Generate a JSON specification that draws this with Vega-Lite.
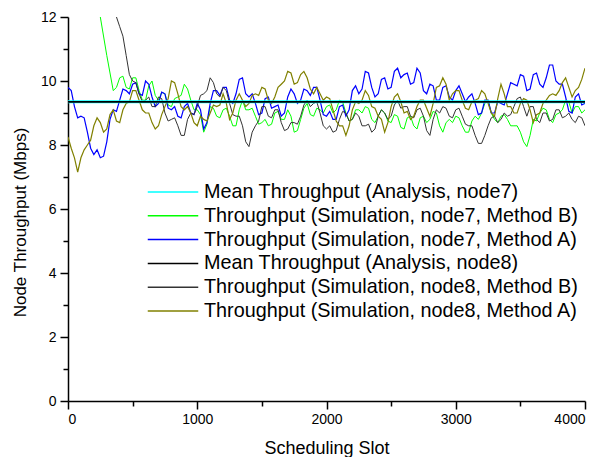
{
  "$schema": "https://vega.github.io/schema/vega-lite/v6.json",
  "width": 517,
  "height": 384,
  "autosize": {"type": "none"},
  "padding": {"left": 68, "top": 17, "right": 28, "bottom": 56},
  "background": "white",
  "config": {"view": {"stroke": null}, "font": "Liberation Sans"},
  "datasets": {
    "names": [
      {"s": "m7", "name": "Mean Throughput (Analysis, node7)"},
      {"s": "g", "name": "Throughput (Simulation, node7, Method B)"},
      {"s": "b", "name": "Throughput (Simulation, node7, Method A)"},
      {"s": "m8", "name": "Mean Throughput (Analysis, node8)"},
      {"s": "k", "name": "Throughput (Simulation, node8, Method B)"},
      {"s": "o", "name": "Throughput (Simulation, node8, Method A)"}
    ],
    "pts": [
      {"s":"m7","x":0,"y":9.35},{"s":"m7","x":4000,"y":9.35},
      {"s":"m8","x":0,"y":9.35},{"s":"m8","x":4000,"y":9.35},
      {"s":"b","x":0,"y":9.8},{"s":"b","x":50,"y":9.2},{"s":"b","x":100,"y":8.9},{"s":"b","x":150,"y":8.4},{"s":"b","x":200,"y":7.7},{"s":"b","x":250,"y":7.6},{"s":"b","x":300,"y":8.1},{"s":"b","x":350,"y":9.1},{"s":"b","x":400,"y":9.4},{"s":"b","x":450,"y":9.7},{"s":"b","x":500,"y":9.9},{"s":"b","x":550,"y":9.6},{"s":"b","x":600,"y":10.0},{"s":"b","x":650,"y":9.5},{"s":"b","x":700,"y":9.3},{"s":"b","x":750,"y":9.6},{"s":"b","x":800,"y":9.1},{"s":"b","x":850,"y":8.9},{"s":"b","x":900,"y":9.2},{"s":"b","x":950,"y":9.0},{"s":"b","x":1000,"y":9.3},{"s":"b","x":1050,"y":8.5},{"s":"b","x":1100,"y":9.3},{"s":"b","x":1150,"y":9.7},{"s":"b","x":1200,"y":9.8},{"s":"b","x":1250,"y":9.4},{"s":"b","x":1300,"y":9.6},{"s":"b","x":1350,"y":10.1},{"s":"b","x":1400,"y":9.5},{"s":"b","x":1450,"y":9.3},{"s":"b","x":1500,"y":9.0},{"s":"b","x":1550,"y":9.5},{"s":"b","x":1600,"y":9.2},{"s":"b","x":1650,"y":8.9},{"s":"b","x":1700,"y":9.5},{"s":"b","x":1750,"y":9.6},{"s":"b","x":1800,"y":9.4},{"s":"b","x":1850,"y":9.7},{"s":"b","x":1900,"y":9.8},{"s":"b","x":1950,"y":9.4},{"s":"b","x":2000,"y":8.9},{"s":"b","x":2050,"y":8.8},{"s":"b","x":2100,"y":9.2},{"s":"b","x":2150,"y":8.9},{"s":"b","x":2200,"y":9.7},{"s":"b","x":2250,"y":9.6},{"s":"b","x":2300,"y":10.3},{"s":"b","x":2350,"y":9.8},{"s":"b","x":2400,"y":9.6},{"s":"b","x":2450,"y":10.1},{"s":"b","x":2500,"y":9.8},{"s":"b","x":2550,"y":10.4},{"s":"b","x":2600,"y":10.2},{"s":"b","x":2650,"y":9.9},{"s":"b","x":2700,"y":10.4},{"s":"b","x":2750,"y":9.7},{"s":"b","x":2800,"y":9.9},{"s":"b","x":2850,"y":9.4},{"s":"b","x":2900,"y":9.8},{"s":"b","x":2950,"y":9.5},{"s":"b","x":3000,"y":9.7},{"s":"b","x":3050,"y":9.6},{"s":"b","x":3100,"y":9.5},{"s":"b","x":3150,"y":9.3},{"s":"b","x":3200,"y":9.0},{"s":"b","x":3250,"y":9.4},{"s":"b","x":3300,"y":9.0},{"s":"b","x":3350,"y":9.3},{"s":"b","x":3400,"y":9.6},{"s":"b","x":3450,"y":9.9},{"s":"b","x":3500,"y":10.2},{"s":"b","x":3550,"y":9.7},{"s":"b","x":3600,"y":10.2},{"s":"b","x":3650,"y":9.9},{"s":"b","x":3700,"y":10.1},{"s":"b","x":3750,"y":10.5},{"s":"b","x":3800,"y":9.9},{"s":"b","x":3850,"y":9.5},{"s":"b","x":3900,"y":9.0},{"s":"b","x":3950,"y":9.6},{"s":"b","x":4000,"y":9.3},
      {"s":"b","x":25,"y":9.7},{"s":"b","x":75,"y":8.85},{"s":"b","x":125,"y":8.85},{"s":"b","x":175,"y":7.9},{"s":"b","x":225,"y":7.85},{"s":"b","x":275,"y":7.65},{"s":"b","x":325,"y":8.8},{"s":"b","x":375,"y":9.05},{"s":"b","x":425,"y":9.75},{"s":"b","x":475,"y":9.6},{"s":"b","x":525,"y":9.95},{"s":"b","x":575,"y":9.55},{"s":"b","x":625,"y":9.9},{"s":"b","x":675,"y":9.2},{"s":"b","x":725,"y":9.65},{"s":"b","x":775,"y":9.15},{"s":"b","x":825,"y":9.2},{"s":"b","x":875,"y":8.85},{"s":"b","x":925,"y":9.3},{"s":"b","x":975,"y":8.95},{"s":"b","x":1025,"y":9.1},{"s":"b","x":1075,"y":8.7},{"s":"b","x":1125,"y":9.7},{"s":"b","x":1175,"y":9.55},{"s":"b","x":1225,"y":9.8},{"s":"b","x":1275,"y":9.3},{"s":"b","x":1325,"y":10.05},{"s":"b","x":1375,"y":9.6},{"s":"b","x":1425,"y":9.6},{"s":"b","x":1475,"y":8.95},{"s":"b","x":1525,"y":9.45},{"s":"b","x":1575,"y":9.15},{"s":"b","x":1625,"y":9.25},{"s":"b","x":1675,"y":9.0},{"s":"b","x":1725,"y":9.75},{"s":"b","x":1775,"y":9.3},{"s":"b","x":1825,"y":9.75},{"s":"b","x":1875,"y":9.55},{"s":"b","x":1925,"y":9.8},{"s":"b","x":1975,"y":8.95},{"s":"b","x":2025,"y":9.05},{"s":"b","x":2075,"y":8.8},{"s":"b","x":2125,"y":9.25},{"s":"b","x":2175,"y":9.1},{"s":"b","x":2225,"y":9.85},{"s":"b","x":2275,"y":9.75},{"s":"b","x":2325,"y":10.25},{"s":"b","x":2375,"y":9.5},{"s":"b","x":2425,"y":10.05},{"s":"b","x":2475,"y":9.75},{"s":"b","x":2525,"y":10.3},{"s":"b","x":2575,"y":10.1},{"s":"b","x":2625,"y":10.25},{"s":"b","x":2675,"y":9.95},{"s":"b","x":2725,"y":10.25},{"s":"b","x":2775,"y":9.6},{"s":"b","x":2825,"y":9.85},{"s":"b","x":2875,"y":9.4},{"s":"b","x":2925,"y":9.85},{"s":"b","x":2975,"y":9.4},{"s":"b","x":3025,"y":9.85},{"s":"b","x":3075,"y":9.35},{"s":"b","x":3125,"y":9.6},{"s":"b","x":3175,"y":8.95},{"s":"b","x":3225,"y":9.4},{"s":"b","x":3275,"y":9.0},{"s":"b","x":3325,"y":9.35},{"s":"b","x":3375,"y":9.25},{"s":"b","x":3425,"y":9.95},{"s":"b","x":3475,"y":9.85},{"s":"b","x":3525,"y":10.15},{"s":"b","x":3575,"y":9.75},{"s":"b","x":3625,"y":10.25},{"s":"b","x":3675,"y":9.8},{"s":"b","x":3725,"y":10.5},{"s":"b","x":3775,"y":10.0},{"s":"b","x":3825,"y":9.9},{"s":"b","x":3875,"y":9.05},{"s":"b","x":3925,"y":9.5},{"s":"b","x":3975,"y":9.25},
      {"s":"g","x":200,"y":13.1},{"s":"g","x":250,"y":12.0},{"s":"g","x":300,"y":10.8},{"s":"g","x":350,"y":9.7},{"s":"g","x":400,"y":10.1},{"s":"g","x":450,"y":9.8},{"s":"g","x":500,"y":10.1},{"s":"g","x":550,"y":9.7},{"s":"g","x":600,"y":9.4},{"s":"g","x":650,"y":10.0},{"s":"g","x":700,"y":9.4},{"s":"g","x":750,"y":9.6},{"s":"g","x":800,"y":9.2},{"s":"g","x":850,"y":9.5},{"s":"g","x":900,"y":9.9},{"s":"g","x":950,"y":9.4},{"s":"g","x":1000,"y":9.1},{"s":"g","x":1050,"y":8.4},{"s":"g","x":1100,"y":9.2},{"s":"g","x":1150,"y":8.9},{"s":"g","x":1200,"y":9.1},{"s":"g","x":1250,"y":8.9},{"s":"g","x":1300,"y":8.6},{"s":"g","x":1350,"y":9.4},{"s":"g","x":1400,"y":9.1},{"s":"g","x":1450,"y":8.9},{"s":"g","x":1500,"y":8.7},{"s":"g","x":1550,"y":8.6},{"s":"g","x":1600,"y":9.0},{"s":"g","x":1650,"y":8.8},{"s":"g","x":1700,"y":9.1},{"s":"g","x":1750,"y":8.4},{"s":"g","x":1800,"y":8.8},{"s":"g","x":1850,"y":9.3},{"s":"g","x":1900,"y":8.9},{"s":"g","x":1950,"y":9.1},{"s":"g","x":2000,"y":9.2},{"s":"g","x":2050,"y":9.0},{"s":"g","x":2100,"y":9.4},{"s":"g","x":2150,"y":9.0},{"s":"g","x":2200,"y":8.8},{"s":"g","x":2250,"y":9.1},{"s":"g","x":2300,"y":9.2},{"s":"g","x":2350,"y":8.8},{"s":"g","x":2400,"y":8.9},{"s":"g","x":2450,"y":9.0},{"s":"g","x":2500,"y":8.7},{"s":"g","x":2550,"y":8.9},{"s":"g","x":2600,"y":8.5},{"s":"g","x":2650,"y":8.9},{"s":"g","x":2700,"y":8.5},{"s":"g","x":2750,"y":8.9},{"s":"g","x":2800,"y":8.8},{"s":"g","x":2850,"y":9.0},{"s":"g","x":2900,"y":8.4},{"s":"g","x":2950,"y":8.8},{"s":"g","x":3000,"y":8.9},{"s":"g","x":3050,"y":8.6},{"s":"g","x":3100,"y":8.4},{"s":"g","x":3150,"y":8.9},{"s":"g","x":3200,"y":9.0},{"s":"g","x":3250,"y":9.4},{"s":"g","x":3300,"y":8.8},{"s":"g","x":3350,"y":8.9},{"s":"g","x":3400,"y":8.8},{"s":"g","x":3450,"y":8.6},{"s":"g","x":3500,"y":8.4},{"s":"g","x":3550,"y":7.95},{"s":"g","x":3600,"y":8.8},{"s":"g","x":3650,"y":9.0},{"s":"g","x":3700,"y":9.1},{"s":"g","x":3750,"y":8.7},{"s":"g","x":3800,"y":9.0},{"s":"g","x":3850,"y":9.4},{"s":"g","x":3900,"y":9.0},{"s":"g","x":3950,"y":9.2},{"s":"g","x":4000,"y":9.1},
      {"s":"g","x":375,"y":9.8},{"s":"g","x":425,"y":10.15},{"s":"g","x":475,"y":9.75},{"s":"g","x":525,"y":10.1},{"s":"g","x":575,"y":9.4},{"s":"g","x":625,"y":9.85},{"s":"g","x":675,"y":9.55},{"s":"g","x":725,"y":9.65},{"s":"g","x":775,"y":9.25},{"s":"g","x":825,"y":9.45},{"s":"g","x":875,"y":9.55},{"s":"g","x":925,"y":9.75},{"s":"g","x":975,"y":9.1},{"s":"g","x":1025,"y":8.95},{"s":"g","x":1075,"y":8.65},{"s":"g","x":1125,"y":9.15},{"s":"g","x":1175,"y":8.85},{"s":"g","x":1225,"y":9.15},{"s":"g","x":1275,"y":8.6},{"s":"g","x":1325,"y":9.1},{"s":"g","x":1375,"y":9.1},{"s":"g","x":1425,"y":9.15},{"s":"g","x":1475,"y":8.65},{"s":"g","x":1525,"y":8.8},{"s":"g","x":1575,"y":8.65},{"s":"g","x":1625,"y":9.05},{"s":"g","x":1675,"y":8.8},{"s":"g","x":1725,"y":8.9},{"s":"g","x":1775,"y":8.45},{"s":"g","x":1825,"y":9.15},{"s":"g","x":1875,"y":8.95},{"s":"g","x":1925,"y":9.15},{"s":"g","x":1975,"y":9.0},{"s":"g","x":2025,"y":9.25},{"s":"g","x":2075,"y":9.1},{"s":"g","x":2125,"y":9.35},{"s":"g","x":2175,"y":8.75},{"s":"g","x":2225,"y":9.1},{"s":"g","x":2275,"y":9.0},{"s":"g","x":2325,"y":9.15},{"s":"g","x":2375,"y":8.7},{"s":"g","x":2425,"y":9.1},{"s":"g","x":2475,"y":8.75},{"s":"g","x":2525,"y":8.95},{"s":"g","x":2575,"y":8.55},{"s":"g","x":2625,"y":8.85},{"s":"g","x":2675,"y":8.6},{"s":"g","x":2725,"y":8.85},{"s":"g","x":2775,"y":8.7},{"s":"g","x":2825,"y":9.05},{"s":"g","x":2875,"y":8.6},{"s":"g","x":2925,"y":8.7},{"s":"g","x":2975,"y":8.7},{"s":"g","x":3025,"y":8.85},{"s":"g","x":3075,"y":8.4},{"s":"g","x":3125,"y":8.75},{"s":"g","x":3175,"y":8.8},{"s":"g","x":3225,"y":9.3},{"s":"g","x":3275,"y":9.0},{"s":"g","x":3325,"y":8.7},{"s":"g","x":3375,"y":8.95},{"s":"g","x":3425,"y":8.6},{"s":"g","x":3475,"y":8.6},{"s":"g","x":3525,"y":8.1},{"s":"g","x":3575,"y":8.3},{"s":"g","x":3625,"y":8.75},{"s":"g","x":3675,"y":9.15},{"s":"g","x":3725,"y":8.8},{"s":"g","x":3775,"y":8.95},{"s":"g","x":3825,"y":9.1},{"s":"g","x":3875,"y":9.35},{"s":"g","x":3925,"y":9.2},{"s":"g","x":3975,"y":9.0},
      {"s":"k","x":300,"y":13.3},{"s":"k","x":350,"y":12.5},{"s":"k","x":400,"y":11.7},{"s":"k","x":450,"y":10.8},{"s":"k","x":500,"y":10.0},{"s":"k","x":550,"y":9.6},{"s":"k","x":600,"y":9.4},{"s":"k","x":650,"y":9.2},{"s":"k","x":700,"y":9.5},{"s":"k","x":750,"y":9.0},{"s":"k","x":800,"y":8.8},{"s":"k","x":850,"y":8.6},{"s":"k","x":900,"y":8.3},{"s":"k","x":950,"y":9.0},{"s":"k","x":1000,"y":9.2},{"s":"k","x":1050,"y":9.6},{"s":"k","x":1100,"y":10.1},{"s":"k","x":1150,"y":9.6},{"s":"k","x":1200,"y":9.8},{"s":"k","x":1250,"y":9.3},{"s":"k","x":1300,"y":8.9},{"s":"k","x":1350,"y":8.6},{"s":"k","x":1400,"y":7.95},{"s":"k","x":1450,"y":8.6},{"s":"k","x":1500,"y":9.2},{"s":"k","x":1550,"y":8.9},{"s":"k","x":1600,"y":9.1},{"s":"k","x":1650,"y":8.7},{"s":"k","x":1700,"y":8.5},{"s":"k","x":1750,"y":8.7},{"s":"k","x":1800,"y":8.9},{"s":"k","x":1850,"y":9.4},{"s":"k","x":1900,"y":9.3},{"s":"k","x":1950,"y":9.0},{"s":"k","x":2000,"y":8.5},{"s":"k","x":2050,"y":8.4},{"s":"k","x":2100,"y":8.8},{"s":"k","x":2150,"y":9.0},{"s":"k","x":2200,"y":8.8},{"s":"k","x":2250,"y":8.9},{"s":"k","x":2300,"y":8.6},{"s":"k","x":2350,"y":8.4},{"s":"k","x":2400,"y":8.9},{"s":"k","x":2450,"y":9.0},{"s":"k","x":2500,"y":8.9},{"s":"k","x":2550,"y":9.4},{"s":"k","x":2600,"y":9.2},{"s":"k","x":2650,"y":8.9},{"s":"k","x":2700,"y":9.1},{"s":"k","x":2750,"y":8.9},{"s":"k","x":2800,"y":8.3},{"s":"k","x":2850,"y":9.1},{"s":"k","x":2900,"y":9.2},{"s":"k","x":2950,"y":8.9},{"s":"k","x":3000,"y":9.1},{"s":"k","x":3050,"y":8.9},{"s":"k","x":3100,"y":8.6},{"s":"k","x":3150,"y":8.3},{"s":"k","x":3200,"y":8.05},{"s":"k","x":3250,"y":8.6},{"s":"k","x":3300,"y":8.9},{"s":"k","x":3350,"y":8.8},{"s":"k","x":3400,"y":8.9},{"s":"k","x":3450,"y":9.2},{"s":"k","x":3500,"y":9.5},{"s":"k","x":3550,"y":8.9},{"s":"k","x":3600,"y":9.2},{"s":"k","x":3650,"y":8.7},{"s":"k","x":3700,"y":9.0},{"s":"k","x":3750,"y":8.8},{"s":"k","x":3800,"y":9.1},{"s":"k","x":3850,"y":8.9},{"s":"k","x":3900,"y":8.8},{"s":"k","x":3950,"y":8.9},{"s":"k","x":4000,"y":8.6},
      {"s":"k","x":325,"y":13.0},{"s":"k","x":375,"y":12.0},{"s":"k","x":425,"y":11.4},{"s":"k","x":475,"y":10.2},{"s":"k","x":525,"y":9.95},{"s":"k","x":575,"y":9.35},{"s":"k","x":625,"y":9.5},{"s":"k","x":675,"y":9.2},{"s":"k","x":725,"y":9.45},{"s":"k","x":775,"y":8.75},{"s":"k","x":825,"y":8.85},{"s":"k","x":875,"y":8.3},{"s":"k","x":925,"y":8.8},{"s":"k","x":975,"y":8.95},{"s":"k","x":1025,"y":9.55},{"s":"k","x":1075,"y":9.7},{"s":"k","x":1125,"y":9.95},{"s":"k","x":1175,"y":9.5},{"s":"k","x":1225,"y":9.7},{"s":"k","x":1275,"y":8.95},{"s":"k","x":1325,"y":8.9},{"s":"k","x":1375,"y":8.1},{"s":"k","x":1425,"y":8.4},{"s":"k","x":1475,"y":8.75},{"s":"k","x":1525,"y":9.2},{"s":"k","x":1575,"y":8.85},{"s":"k","x":1625,"y":9.1},{"s":"k","x":1675,"y":8.45},{"s":"k","x":1725,"y":8.7},{"s":"k","x":1775,"y":8.65},{"s":"k","x":1825,"y":9.25},{"s":"k","x":1875,"y":9.2},{"s":"k","x":1925,"y":9.35},{"s":"k","x":1975,"y":8.6},{"s":"k","x":2025,"y":8.6},{"s":"k","x":2075,"y":8.45},{"s":"k","x":2125,"y":9.05},{"s":"k","x":2175,"y":8.75},{"s":"k","x":2225,"y":9.0},{"s":"k","x":2275,"y":8.6},{"s":"k","x":2325,"y":8.65},{"s":"k","x":2375,"y":8.5},{"s":"k","x":2425,"y":9.1},{"s":"k","x":2475,"y":8.8},{"s":"k","x":2525,"y":9.25},{"s":"k","x":2575,"y":9.15},{"s":"k","x":2625,"y":9.2},{"s":"k","x":2675,"y":8.85},{"s":"k","x":2725,"y":9.15},{"s":"k","x":2775,"y":8.45},{"s":"k","x":2825,"y":8.8},{"s":"k","x":2875,"y":9.0},{"s":"k","x":2925,"y":9.15},{"s":"k","x":2975,"y":8.85},{"s":"k","x":3025,"y":9.15},{"s":"k","x":3075,"y":8.65},{"s":"k","x":3125,"y":8.6},{"s":"k","x":3175,"y":8.05},{"s":"k","x":3225,"y":8.3},{"s":"k","x":3275,"y":8.85},{"s":"k","x":3325,"y":8.7},{"s":"k","x":3375,"y":9.0},{"s":"k","x":3425,"y":8.95},{"s":"k","x":3475,"y":9.45},{"s":"k","x":3525,"y":9.2},{"s":"k","x":3575,"y":9.2},{"s":"k","x":3625,"y":8.8},{"s":"k","x":3675,"y":9.0},{"s":"k","x":3725,"y":8.75},{"s":"k","x":3775,"y":9.1},{"s":"k","x":3825,"y":8.85},{"s":"k","x":3875,"y":9.0},{"s":"k","x":3925,"y":8.7},{"s":"k","x":3975,"y":8.85},
      {"s":"o","x":0,"y":8.25},{"s":"o","x":50,"y":7.6},{"s":"o","x":100,"y":7.6},{"s":"o","x":150,"y":8.0},{"s":"o","x":200,"y":8.6},{"s":"o","x":250,"y":8.7},{"s":"o","x":300,"y":8.5},{"s":"o","x":350,"y":9.1},{"s":"o","x":400,"y":8.7},{"s":"o","x":450,"y":9.3},{"s":"o","x":500,"y":9.7},{"s":"o","x":550,"y":9.4},{"s":"o","x":600,"y":9.0},{"s":"o","x":650,"y":8.7},{"s":"o","x":700,"y":8.6},{"s":"o","x":750,"y":9.2},{"s":"o","x":800,"y":10.0},{"s":"o","x":850,"y":9.6},{"s":"o","x":900,"y":9.1},{"s":"o","x":950,"y":9.0},{"s":"o","x":1000,"y":8.6},{"s":"o","x":1050,"y":8.8},{"s":"o","x":1100,"y":9.0},{"s":"o","x":1150,"y":9.2},{"s":"o","x":1200,"y":9.6},{"s":"o","x":1250,"y":8.8},{"s":"o","x":1300,"y":9.4},{"s":"o","x":1350,"y":9.4},{"s":"o","x":1400,"y":9.3},{"s":"o","x":1450,"y":9.6},{"s":"o","x":1500,"y":9.8},{"s":"o","x":1550,"y":9.4},{"s":"o","x":1600,"y":9.5},{"s":"o","x":1650,"y":9.9},{"s":"o","x":1700,"y":10.3},{"s":"o","x":1750,"y":9.9},{"s":"o","x":1800,"y":10.2},{"s":"o","x":1850,"y":10.1},{"s":"o","x":1900,"y":9.6},{"s":"o","x":1950,"y":9.6},{"s":"o","x":2000,"y":9.5},{"s":"o","x":2050,"y":9.1},{"s":"o","x":2100,"y":8.6},{"s":"o","x":2150,"y":8.3},{"s":"o","x":2200,"y":9.1},{"s":"o","x":2250,"y":9.3},{"s":"o","x":2300,"y":9.7},{"s":"o","x":2350,"y":9.2},{"s":"o","x":2400,"y":8.9},{"s":"o","x":2450,"y":8.4},{"s":"o","x":2500,"y":9.2},{"s":"o","x":2550,"y":9.6},{"s":"o","x":2600,"y":9.0},{"s":"o","x":2650,"y":8.8},{"s":"o","x":2700,"y":9.2},{"s":"o","x":2750,"y":9.4},{"s":"o","x":2800,"y":8.9},{"s":"o","x":2850,"y":9.8},{"s":"o","x":2900,"y":10.1},{"s":"o","x":2950,"y":9.4},{"s":"o","x":3000,"y":9.7},{"s":"o","x":3050,"y":9.4},{"s":"o","x":3100,"y":9.1},{"s":"o","x":3150,"y":9.4},{"s":"o","x":3200,"y":9.7},{"s":"o","x":3250,"y":9.3},{"s":"o","x":3300,"y":8.9},{"s":"o","x":3350,"y":9.9},{"s":"o","x":3400,"y":9.2},{"s":"o","x":3450,"y":9.0},{"s":"o","x":3500,"y":9.3},{"s":"o","x":3550,"y":9.4},{"s":"o","x":3600,"y":8.7},{"s":"o","x":3650,"y":9.0},{"s":"o","x":3700,"y":9.4},{"s":"o","x":3750,"y":9.6},{"s":"o","x":3800,"y":9.7},{"s":"o","x":3850,"y":10.1},{"s":"o","x":3900,"y":9.5},{"s":"o","x":3950,"y":9.8},{"s":"o","x":4000,"y":10.4},
      {"s":"o","x":25,"y":7.9},{"s":"o","x":75,"y":7.15},{"s":"o","x":125,"y":7.85},{"s":"o","x":175,"y":8.15},{"s":"o","x":225,"y":8.85},{"s":"o","x":275,"y":8.4},{"s":"o","x":325,"y":8.95},{"s":"o","x":375,"y":8.75},{"s":"o","x":425,"y":9.1},{"s":"o","x":475,"y":9.35},{"s":"o","x":525,"y":9.7},{"s":"o","x":575,"y":9.1},{"s":"o","x":625,"y":9.0},{"s":"o","x":675,"y":8.5},{"s":"o","x":725,"y":8.95},{"s":"o","x":775,"y":9.45},{"s":"o","x":825,"y":9.95},{"s":"o","x":875,"y":9.2},{"s":"o","x":925,"y":9.2},{"s":"o","x":975,"y":8.7},{"s":"o","x":1025,"y":8.9},{"s":"o","x":1075,"y":8.75},{"s":"o","x":1125,"y":9.25},{"s":"o","x":1175,"y":9.25},{"s":"o","x":1225,"y":9.3},{"s":"o","x":1275,"y":9.0},{"s":"o","x":1325,"y":9.6},{"s":"o","x":1375,"y":9.2},{"s":"o","x":1425,"y":9.55},{"s":"o","x":1475,"y":9.55},{"s":"o","x":1525,"y":9.75},{"s":"o","x":1575,"y":9.3},{"s":"o","x":1625,"y":9.8},{"s":"o","x":1675,"y":10.0},{"s":"o","x":1725,"y":10.25},{"s":"o","x":1775,"y":9.95},{"s":"o","x":1825,"y":10.3},{"s":"o","x":1875,"y":9.75},{"s":"o","x":1925,"y":9.8},{"s":"o","x":1975,"y":9.4},{"s":"o","x":2025,"y":9.45},{"s":"o","x":2075,"y":8.75},{"s":"o","x":2125,"y":8.6},{"s":"o","x":2175,"y":8.6},{"s":"o","x":2225,"y":9.35},{"s":"o","x":2275,"y":9.4},{"s":"o","x":2325,"y":9.55},{"s":"o","x":2375,"y":9.15},{"s":"o","x":2425,"y":8.8},{"s":"o","x":2475,"y":8.7},{"s":"o","x":2525,"y":9.5},{"s":"o","x":2575,"y":9.35},{"s":"o","x":2625,"y":9.05},{"s":"o","x":2675,"y":8.9},{"s":"o","x":2725,"y":9.4},{"s":"o","x":2775,"y":9.15},{"s":"o","x":2825,"y":9.3},{"s":"o","x":2875,"y":9.85},{"s":"o","x":2925,"y":9.9},{"s":"o","x":2975,"y":9.6},{"s":"o","x":3025,"y":9.7},{"s":"o","x":3075,"y":9.15},{"s":"o","x":3125,"y":9.35},{"s":"o","x":3175,"y":9.45},{"s":"o","x":3225,"y":9.6},{"s":"o","x":3275,"y":9.0},{"s":"o","x":3325,"y":9.45},{"s":"o","x":3375,"y":9.6},{"s":"o","x":3425,"y":9.2},{"s":"o","x":3475,"y":9.0},{"s":"o","x":3525,"y":9.45},{"s":"o","x":3575,"y":9.1},{"s":"o","x":3625,"y":8.95},{"s":"o","x":3675,"y":9.3},{"s":"o","x":3725,"y":9.55},{"s":"o","x":3775,"y":9.55},{"s":"o","x":3825,"y":9.95},{"s":"o","x":3875,"y":9.8},{"s":"o","x":3925,"y":9.7},{"s":"o","x":3975,"y":10.05}
    ]
  },
  "data": {"name": "pts"},
  "transform": [
    {"lookup": "s", "from": {"data": {"name": "names"}, "key": "s", "fields": ["name"]}}
  ],
  "encoding": {
    "x": {
      "field": "x", "type": "quantitative",
      "scale": {"domain": [0, 4000], "nice": false},
      "axis": {
        "values": [0, 500, 1000, 1500, 2000, 2500, 3000, 3500, 4000],
        "labelExpr": "datum.value % 1000 === 0 ? datum.label : ''",
        "format": "d",
        "grid": false,
        "domainColor": "black", "domainWidth": 1.5,
        "tickColor": "black", "tickWidth": 1.5,
        "tickSize": {"condition": {"test": "datum.value % 1000 === 0", "value": 8}, "value": 5},
        "labelFontSize": 14, "labelColor": "black", "labelPadding": 3,
        "title": "Scheduling Slot", "titleFontSize": 18, "titleFontWeight": "normal", "titleColor": "black",
        "titleBaseline": "alphabetic", "titleY": 52
      }
    },
    "y": {
      "field": "y", "type": "quantitative",
      "scale": {"domain": [0, 12], "nice": false},
      "axis": {
        "values": [0, 1, 2, 3, 4, 5, 6, 7, 8, 9, 10, 11, 12],
        "labelExpr": "datum.value % 2 === 0 ? datum.label : ''",
        "grid": false,
        "domainColor": "black", "domainWidth": 1.5,
        "tickColor": "black", "tickWidth": 1.5,
        "tickSize": {"condition": {"test": "datum.value % 2 === 0", "value": 8}, "value": 5},
        "labelFontSize": 14, "labelColor": "black", "labelPadding": 4,
        "title": "Node Throughput (Mbps)", "titleFontSize": 17, "titleFontWeight": "normal", "titleColor": "black",
        "titleBaseline": "middle", "titleX": -48, "titleY": 205
      }
    },
    "color": {
      "field": "name", "type": "nominal",
      "scale": {
        "domain": [
          "Mean Throughput (Analysis, node7)",
          "Throughput (Simulation, node7, Method B)",
          "Throughput (Simulation, node7, Method A)",
          "Mean Throughput (Analysis, node8)",
          "Throughput (Simulation, node8, Method B)",
          "Throughput (Simulation, node8, Method A)"
        ],
        "range": ["#00ffff", "#00ff00", "#0000ff", "#000000", "#333333", "#808000"]
      },
      "legend": {
        "title": null,
        "orient": "none", "legendX": 79, "legendY": 167,
        "padding": 0,
        "symbolType": "stroke", "symbolSize": 2550, "symbolStrokeWidth": 1.5,
        "clipHeight": 16, "rowPadding": 3.8,
        "labelFontSize": 19.8, "labelColor": "black", "labelOffset": 5, "labelLimit": 0
      }
    }
  },
  "layer": [
    {"transform": [{"filter": "datum.s === 'g'"}], "mark": {"type": "line", "strokeWidth": 1, "clip": true}},
    {"transform": [{"filter": "datum.s === 'b'"}], "mark": {"type": "line", "strokeWidth": 1.2, "clip": true}},
    {"transform": [{"filter": "datum.s === 'k'"}], "mark": {"type": "line", "strokeWidth": 1, "clip": true}},
    {"transform": [{"filter": "datum.s === 'o'"}], "mark": {"type": "line", "strokeWidth": 1.2, "clip": true}},
    {"transform": [{"filter": "datum.s === 'm7'"}], "mark": {"type": "line", "strokeWidth": 3}},
    {"transform": [{"filter": "datum.s === 'm8'"}], "mark": {"type": "line", "strokeWidth": 1.8}}
  ]
}
